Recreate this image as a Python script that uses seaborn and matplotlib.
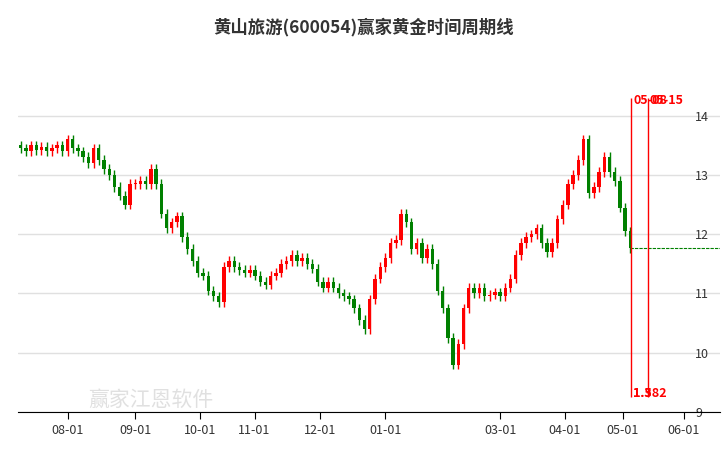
import numpy as np
import pandas as pd
import matplotlib
matplotlib.use("Agg")
import matplotlib.pyplot as plt
import seaborn as sns

# 收盘价(按图读数估计)
closes = [13.45, 13.40, 13.50, 13.42, 13.48, 13.40, 13.45, 13.50, 13.40, 13.60,
          13.45, 13.40, 13.30, 13.20, 13.45, 13.25, 13.10, 13.00, 12.80, 12.65,
          12.50, 12.85, 12.85, 12.90, 12.85, 13.10, 12.85, 12.35, 12.10, 12.20,
          12.30, 11.95, 11.75, 11.55, 11.35, 11.30, 11.05, 10.95, 10.85, 11.45,
          11.55, 11.45, 11.40, 11.35, 11.40, 11.30, 11.20, 11.15, 11.30, 11.35,
          11.50, 11.55, 11.65, 11.55, 11.60, 11.50, 11.42, 11.20, 11.10, 11.20,
          11.10, 11.00, 10.95, 10.90, 10.75, 10.55, 10.40, 10.90, 11.25, 11.45,
          11.60, 11.85, 11.90, 12.35, 12.20, 11.75, 11.85, 11.60, 11.75, 11.50,
          11.05, 10.75, 10.25, 9.80, 10.15, 10.75, 11.10, 11.00, 11.10, 10.95,
          10.98, 11.02, 10.95, 11.10, 11.25, 11.65, 11.85, 11.95, 12.00, 12.10,
          11.85, 11.70, 11.85, 12.25, 12.50, 12.85, 13.00, 13.25, 13.60, 12.70,
          12.80, 13.05, 13.30, 13.05, 12.90, 12.45, 12.05, 11.77]

tick_pos = [9.0, 22.0, 34.4, 44.9, 57.4, 70.0, 92.0, 104.4, 115.5, 127.3]
tick_labels = ["08-01", "09-01", "10-01", "11-01", "12-01", "01-01",
               "03-01", "04-01", "05-01", "06-01"]
cycle_pos = [117.2, 120.3]
cycle_dates = ["05-08", "05-15"]
cycle_ratios = ["1.382", "1.5"]
x_end = 134.2

df = pd.DataFrame({"close": closes})
df["open"] = df["close"].shift(1).fillna(df["close"].iloc[0] + 0.05)
df["high"] = df[["open", "close"]].max(axis=1) + 0.08
df["low"] = df[["open", "close"]].min(axis=1) - 0.08
df["up"] = df["close"] >= df["open"]

sns.set_style("white")
plt.rcParams["font.family"] = ["Noto Sans CJK SC", "DejaVu Sans"]

fig = plt.figure(figsize=(7.26, 4.5), dpi=100)
ax = fig.add_axes([18 / 726, 1 - 412 / 450, 702 / 726, 317 / 450])

for i, r in df.iterrows():
    c = "#ff0000" if r["up"] else "#008000"
    ax.vlines(i, r["low"], r["high"], color=c, lw=1)
    lo, hi = min(r["open"], r["close"]), max(r["open"], r["close"])
    ax.bar(i, max(hi - lo, 0.02), bottom=lo, width=0.65, color=c, lw=0)

n = len(df)
ax.hlines(closes[-1], n - 1, x_end, colors="#008000", linestyles=(0, (3, 1)), lw=0.8)

for p, d, rt in zip(cycle_pos, cycle_dates, cycle_ratios):
    ax.vlines(p, 9.25, 14.3, colors="#ff0000", lw=1)
    ax.text(p + 0.4, 14.25, d, color="#ff0000", fontsize=9, fontweight="bold", va="center")
    ax.text(cycle_pos[0] + 0.4, 9.32, rt, color="#ff0000", fontsize=9, fontweight="bold", va="center")

ax.set_xlim(-0.5, x_end)
ax.set_ylim(9.0, 14.35)
ax.set_yticks([9, 10, 11, 12, 13, 14])
ax.yaxis.tick_right()
ax.tick_params(axis="y", length=0, pad=-18, labelsize=9, colors="#333333")
ax.grid(axis="y", color="#e0e0e0", lw=1)
ax.set_xticks(tick_pos)
ax.set_xticklabels(tick_labels, fontsize=9, color="#333333")
ax.tick_params(axis="x", length=5, direction="out", color="black", bottom=True)
for s in ["top", "right", "left"]:
    ax.spines[s].set_visible(False)
ax.spines["bottom"].set_color("black")

fig.text(0.5, 1 - 27 / 450, "黄山旅游(600054)赢家黄金时间周期线", ha="center", va="center",
         fontsize=12.5, fontweight="bold", color="#333333")
fig.text(88 / 726, 1 - 400 / 450, "赢家江恩软件", fontsize=15, color="#cccccc", alpha=0.6, va="center")

fig.savefig("out.png", dpi=100)
